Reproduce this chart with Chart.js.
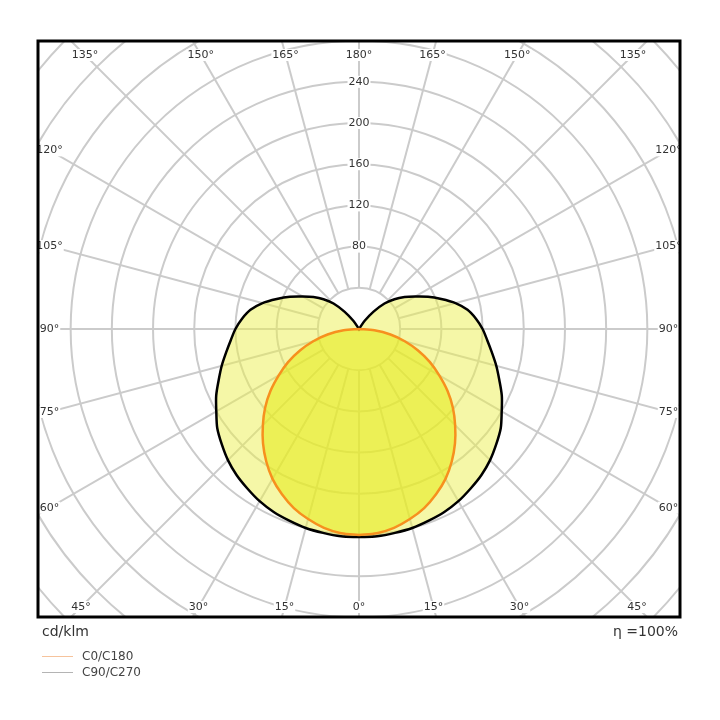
<!DOCTYPE html>
<html>
<head>
<meta charset="utf-8">
<script src="https://cdn.jsdelivr.net/npm/chart.js@4.4.1/dist/chart.umd.min.js"></script>
<style>
  body { margin: 0; background: #fff; font-family: "DejaVu Sans", sans-serif; }
  #wrap { position: relative; width: 720px; height: 720px; }
  canvas { position: absolute; left: 0; top: 0; }
  .txt { position: absolute; color: #333; white-space: nowrap; line-height: 1; }
  .unit { left: 42px; top: 624px; font-size: 14px; }
  .eta { right: 42px; top: 624px; font-size: 14px; }
  .leg { left: 82px; font-size: 12px; color: #444; }
  .legline { position: absolute; left: 42px; width: 31px; height: 1px; }
</style>
</head>
<body>
<div id="wrap">
  <canvas id="chart" width="720" height="720"></canvas>
  <div class="txt unit">cd/klm</div>
  <div class="txt eta">η =100%</div>
  <div class="legline" style="top:656px;background:#f6c39c"></div>
  <div class="txt leg" style="top:650px">C0/C180</div>
  <div class="legline" style="top:672px;background:#b4b4b4"></div>
  <div class="txt leg" style="top:666px">C90/C270</div>
</div>
<script>
// gamma angles (degrees from nadir) and intensities in cd/klm
const gammaAngles = [0, 5, 10, 15, 20, 25, 30, 35, 40, 45, 50, 55, 60, 65, 70, 75, 80, 85, 90,
                     95, 100, 105, 110, 115, 120, 125, 130, 135, 140, 145, 150, 155, 160, 165, 170, 175, 180];
const c0c180 = [200, 199, 196, 191, 185, 177, 168, 157, 145, 132, 119, 105, 90, 76, 61, 46, 31, 15, 0,
                0, 0, 0, 0, 0, 0, 0, 0, 0, 0, 0, 0, 0, 0, 0, 0, 0, 0];
const c90c270 = [202, 202, 201, 200, 198, 196, 193, 189, 185, 180, 174, 168, 160, 153, 145, 138, 131, 125, 120,
                 114, 107, 97, 85, 74, 63, 54, 45, 35, 22, 10, 1, 0, 0, 0, 0, 0, 0];

const ringValues = [40, 80, 120, 160, 200, 240, 280, 320, 360, 400, 440];
const ringLabels = [80, 120, 160, 200, 240];
const angleTicks = [0, 15, 30, 45, 60, 75, 90, 105, 120, 135, 150, 165, 180];

const gridColor = '#cbcbcb';

// polar -> cartesian, nadir pointing down; right half then left half back
function toShape(values) {
  const pts = [];
  gammaAngles.forEach((g, i) => {
    const a = g * Math.PI / 180;
    pts.push({ x: values[i] * Math.sin(a), y: -values[i] * Math.cos(a) });
  });
  for (let i = gammaAngles.length - 1; i >= 0; i--) {
    const a = gammaAngles[i] * Math.PI / 180;
    pts.push({ x: -values[i] * Math.sin(a), y: -values[i] * Math.cos(a) });
  }
  return pts;
}

function labelBox(ctx, text, px, py) {
  const w = ctx.measureText(text).width;
  ctx.fillStyle = '#fff';
  ctx.fillRect(px - w / 2 - 1, py - 6, w + 2, 12);
  ctx.fillStyle = '#333';
  ctx.fillText(text, px, py);
}

const polarGrid = {
  id: 'polarGrid',
  beforeDatasetsDraw(chart) {
    const { ctx, chartArea: a, scales: { x, y } } = chart;
    const cx = x.getPixelForValue(0), cy = y.getPixelForValue(0);
    const k = x.getPixelForValue(1) - cx;
    ctx.save();
    ctx.beginPath();
    ctx.rect(a.left, a.top, a.width, a.height);
    ctx.clip();
    ctx.strokeStyle = gridColor;
    ctx.lineWidth = 2;
    ringValues.forEach(r => {
      ctx.beginPath();
      ctx.arc(cx, cy, r * k, 0, Math.PI * 2);
      ctx.stroke();
    });
    angleTicks.forEach(g => {
      [1, -1].forEach(s => {
        const rad = g * Math.PI / 180;
        const dx = s * Math.sin(rad), dy = Math.cos(rad);
        ctx.beginPath();
        ctx.moveTo(cx + dx * ringValues[0] * k, cy + dy * ringValues[0] * k);
        ctx.lineTo(cx + dx * 1200, cy + dy * 1200);
        ctx.stroke();
      });
    });
    ctx.restore();
  },
  afterDatasetsDraw(chart) {
    const { ctx, chartArea: a, scales: { x, y } } = chart;
    const cx = x.getPixelForValue(0), cy = y.getPixelForValue(0);
    const k = x.getPixelForValue(1) - cx;
    ctx.save();
    ctx.font = '11px "DejaVu Sans"';
    ctx.textAlign = 'center';
    ctx.textBaseline = 'middle';

    ringLabels.forEach(r => labelBox(ctx, String(r), cx, cy - r * k));

    // angle labels sit on each line just inside the frame
    const inL = cx - (a.left + 11.5), inR = (a.right - 11.5) - cx;
    const inT = cy - (a.top + 14), inB = (a.bottom - 10) - cy;
    angleTicks.forEach(g => {
      const sides = (g === 0 || g === 180) ? [1] : [1, -1];
      sides.forEach(s => {
        const rad = g * Math.PI / 180;
        const dx = s * Math.sin(rad), dy = Math.cos(rad);
        let t = Infinity;
        if (dx > 1e-6) t = Math.min(t, inR / dx);
        if (dx < -1e-6) t = Math.min(t, inL / -dx);
        if (dy > 1e-6) t = Math.min(t, inB / dy);
        if (dy < -1e-6) t = Math.min(t, inT / -dy);
        labelBox(ctx, g + '°', cx + dx * t, cy + dy * t);
      });
    });

    ctx.strokeStyle = '#000';
    ctx.lineWidth = 3;
    ctx.strokeRect(a.left, a.top, a.width, a.height);
    ctx.restore();
  }
};

new Chart(document.getElementById('chart'), {
  type: 'scatter',
  data: {
    datasets: [
      {
        label: 'C0/C180',
        data: toShape(c0c180),
        showLine: true,
        borderColor: '#f7901e',
        borderWidth: 2.5,
        backgroundColor: 'rgba(230, 235, 20, 0.55)',
        fill: 'shape',
        pointRadius: 0,
        tension: 0.3
      },
      {
        label: 'C90/C270',
        data: toShape(c90c270),
        showLine: true,
        borderColor: '#000',
        borderWidth: 2.5,
        backgroundColor: 'rgba(235, 240, 80, 0.5)',
        fill: 'shape',
        pointRadius: 0,
        tension: 0.3
      }
    ]
  },
  options: {
    responsive: false,
    animation: false,
    events: [],
    layout: { padding: { left: 38, right: 40, top: 41, bottom: 103 } },
    scales: {
      x: { type: 'linear', min: -311.7, max: 311.7, display: false },
      y: { type: 'linear', min: -279.6, max: 279.6, display: false }
    },
    plugins: {
      legend: { display: false },
      tooltip: { enabled: false }
    }
  },
  plugins: [polarGrid]
});
</script>
</body>
</html>
